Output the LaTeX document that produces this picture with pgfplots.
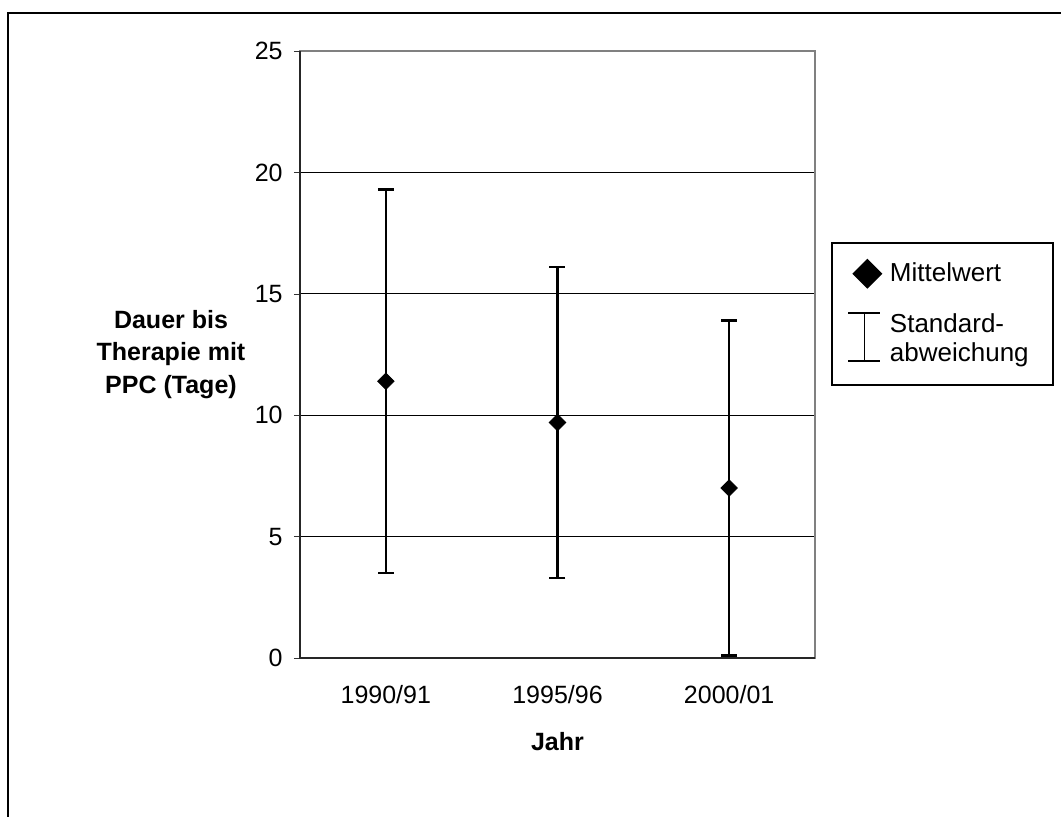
\documentclass[12pt,border=0pt]{standalone}
\usepackage{fontspec}
\setmainfont{Liberation Sans}
\usepackage{pgfplots}
\pgfplotsset{compat=1.18}

% Mittelwert und Standardabweichung je Jahr
\begin{document}
\begin{tikzpicture}
\begin{axis}[
    scale only axis,
    width=257.5pt, height=303.5pt,
    font=\fontsize{12.5}{15}\selectfont,
    xmin=-0.5, xmax=2.5,
    ymin=0, ymax=25,
    ytick={0,5,...,25},
    xtick={0,1,2},
    xticklabels={1990/91,1995/96,2000/01},
    minor xtick={-0.5,0.5,1.5,2.5},
    tick pos=left,
    xtick style={draw=none},
    minor x tick style={black!80},
    minor tick length=4pt,
    major tick length=3pt,
    tick align=outside,
    ytick style={black!80},
    ymajorgrids,
    major grid style={black, line width=0.5pt},
    axis line style={black!50, line width=0.8pt},
    /pgf/number format/assume math mode=true,
    yticklabel style={xshift=-1.5pt},
    xticklabel style={yshift=-6.5pt},
    xlabel={\bfseries Jahr},
    xlabel style={yshift=-6pt},
    ylabel={Dauer bis\\Therapie mit\\PPC (Tage)},
    every axis y label/.style={at={(rel axis cs:0,0.5)}, xshift=-64.5pt,
        anchor=center, align=center, rotate=0,
        font=\fontsize{12.5}{16.25}\selectfont\bfseries},
    legend style={at={(rel axis cs:1.031,0.6853)}, anchor=north west,
        draw=black, line width=0.8pt,
        inner xsep=8pt, inner ysep=9.8pt,
        row sep=13.75pt, column sep=4.5pt,
        nodes={inner sep=0pt, text width=73.5pt, align=left,
            font=\fontsize{13}{14.5}\selectfont}},
    legend cell align=left,
    clip=false,
]
\addplot[only marks, mark=square*, mark size=2.9pt, mark options={rotate=45, fill=black, draw=black},
    legend image code/.code={
        \path[draw=none, fill=none] (0pt,-2pt) rectangle (16pt,2pt);
        \begin{pgfinterruptboundingbox}
        \draw[mark size=4.9pt] plot coordinates {(9.5pt,0pt)};
        \end{pgfinterruptboundingbox}},
    error bars/.cd, y dir=both, y explicit,
    error bar style={black, line width=1.3pt},
    error mark options={rotate=90, mark size=4pt, line width=1.3pt, black}]
    table[x=x, y=m, y error=sd] {
x m    sd
0 11.4 7.9
1 9.7  6.4
2 7.0  6.9
};
\addlegendentry{Mittelwert}
\addlegendimage{legend image code/.code={
    \path[draw=none, fill=none] (0pt,5.85pt) rectangle (16pt,-20.35pt);
    \draw[black, line width=0.6pt] (0pt,5.85pt) -- (16pt,5.85pt)
        (8pt,5.85pt) -- (8pt,-18.15pt)
        (0pt,-18.15pt) -- (16pt,-18.15pt);}}
\addlegendentry{Standard-\\abweichung}
\draw[black!85, line width=0.8pt] (rel axis cs:0,1) -- (rel axis cs:0,0) -- (rel axis cs:1,0);
\end{axis}
\useasboundingbox ([shift={(-150pt,-79pt)}]current axis.south west)
    rectangle ([shift={(380.5pt,329pt)}]current axis.south west);
\draw[black, line width=0.8pt]
    ([shift={(-146pt,-80pt)}]current axis.south west) --
    ([shift={(-146pt,322.5pt)}]current axis.south west) --
    ([shift={(382pt,322.5pt)}]current axis.south west);
\end{tikzpicture}
\end{document}
